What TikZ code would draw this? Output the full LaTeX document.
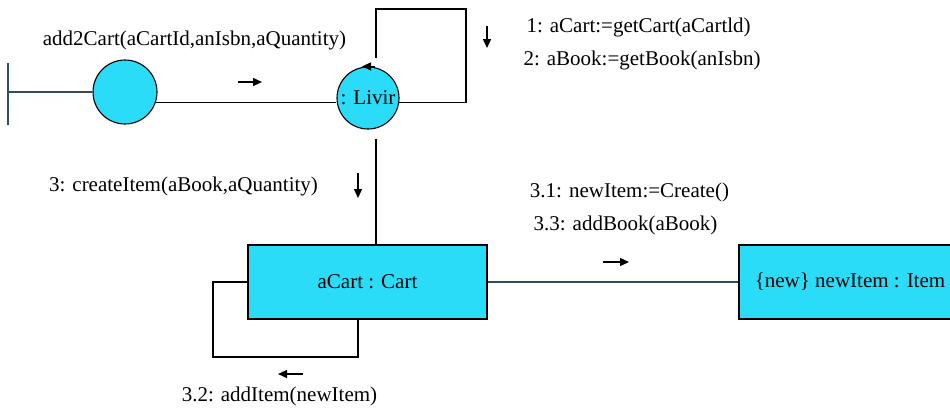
\documentclass[tikz,border=0pt]{standalone}
\usepackage{fontspec}
\setmainfont{Liberation Serif}
\usetikzlibrary{arrows.meta}
\definecolor{objcyan}{HTML}{2ADCF8}
\definecolor{linkteal}{HTML}{2F4F56}
\tikzset{
  every node/.style={font=\fontsize{21}{25}\selectfont},
  obj/.style={draw=black, fill=objcyan, line width=1.1pt},
  lbl/.style={inner sep=0pt},
  msg/.style={-{Triangle[length=9pt,width=8pt]}, line width=1.4pt},
}
\begin{document}
\begin{tikzpicture}[x=1pt, y=-1pt, line width=1.1pt]
		\useasboundingbox (0,0) rectangle (950,408);
		
		% Objects
		\node[obj, circle, minimum size=64pt, inner sep=0pt] (ui) at (125,92) {};
		\node[obj, circle, minimum size=62pt, inner sep=0pt] (livir) at (368,98) {: Livir};
		\node[obj, minimum width=239pt, minimum height=74pt] (cart) at (367.5,282) {aCart : Cart};
		\node[obj, minimum width=222pt, minimum height=74pt] (item) at (850,282) {\{new\} newItem : Item};
		
		% Actor
		\coordinate (actor) at (8,92);
		\draw[linkteal, line width=1.4pt] (8,63) -- (8,125);
		\draw[linkteal, line width=1.4pt] (actor) -- (ui.west);
		
		% Links
		\draw (ui.-18) -- (ui.-18 -| livir.west);
		\draw (livir.-8) -| (466,9) -| (376,58);
		\draw[-{Triangle[length=9pt,width=8pt]}] ([xshift=7pt]livir.north) -- ([xshift=-6pt]livir.north);
		\draw ([shift={(8pt,-9pt)}]livir.south) -- ([xshift=8.5pt]cart.north);
		\draw (cart.west) -| (213,357) -| ([xshift=-9.5pt]cart.south);
		\draw[linkteal, line width=1.6pt] (cart.east) -- (item.west);
		
		% Messages
		\node[lbl] (add2cart) at (194.5,40) {add2Cart(aCartId,anIsbn,aQuantity)};
		\draw[msg] (238,82) -- (262,82);
		\node[lbl, anchor=west] (getcart) at (526,27) {1: aCart:=getCart(aCartld)};
		\node[lbl, anchor=west] (getbook) at (523,60.5) {2: aBook:=getBook(anIsbn)};
		\draw[msg] (487,26) -- (487,48);
		\node[lbl] (createitem) at (183.5,186.5) {3: createItem(aBook,aQuantity)};
		\draw[msg] (358,173) -- (358,198);
		\node[lbl] (create) at (629.5,192) {3.1: newItem:=Create()};
		\node[lbl] (addbook) at (625.5,225) {3.3: addBook(aBook)};
		\draw[msg] (603,262) -- (629,262);
		\draw[msg] (303,374) -- (278,374);
		\node[lbl] (additem) at (279.5,396) {3.2: addItem(newItem)};
	\end{tikzpicture}
\end{document}
